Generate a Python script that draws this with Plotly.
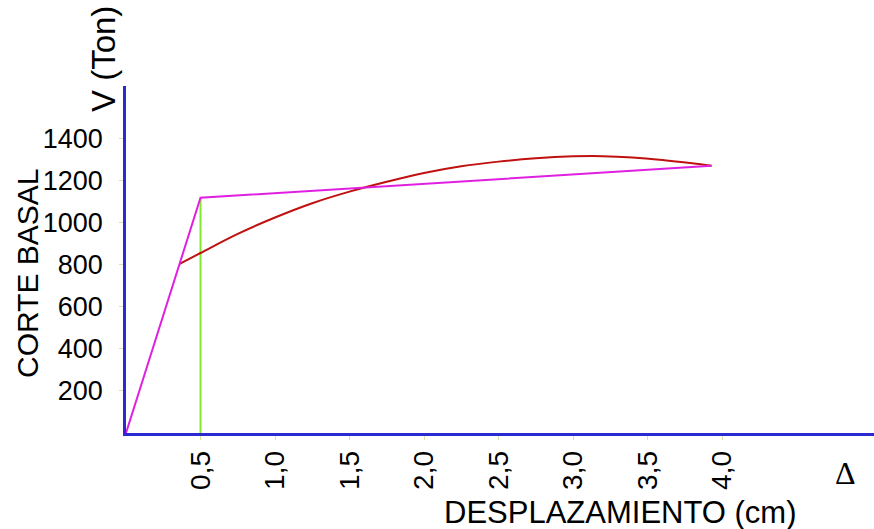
import plotly.graph_objects as go

# Data
bilinear_x = [0.0, 0.5, 3.93]
bilinear_y = [0, 1120, 1272]

curve_x = [0.36, 0.5, 0.75, 1.0, 1.25, 1.5, 1.75, 2.0, 2.25, 2.5, 2.75, 3.0, 3.2, 3.4, 3.6, 3.8, 3.93]
curve_y = [805, 857, 948, 1026, 1094, 1149, 1196, 1238, 1270, 1292, 1308, 1317, 1318, 1312, 1300, 1284, 1272]

yield_x = [0.5, 0.5]
yield_y = [0, 1120]

x_ticks = [0.5, 1.0, 1.5, 2.0, 2.5, 3.0, 3.5, 4.0]
x_ticktext = ["0,5", "1,0", "1,5", "2,0", "2,5", "3,0", "3,5", "4,0"]
y_ticks = [200, 400, 600, 800, 1000, 1200, 1400]

W, H = 874, 529
L, R, T, B = 126, 0, 86, 96
pw = W - L - R
ph = H - T - B

def px(xp):
    return (xp - L) / pw

def py(yp):
    return (H - B - yp) / ph

fig = go.Figure()
fig.add_trace(go.Scatter(x=yield_x, y=yield_y, mode="lines",
                         line=dict(color="#80e830", width=2), hoverinfo="skip"))
fig.add_trace(go.Scatter(x=curve_x, y=curve_y, mode="lines",
                         line=dict(color="#c01010", width=2, shape="spline"), hoverinfo="skip"))
fig.add_trace(go.Scatter(x=bilinear_x, y=bilinear_y, mode="lines",
                         line=dict(color="#e020e0", width=2), hoverinfo="skip"))

font_family = "Liberation Sans, Arial, sans-serif"

fig.update_layout(
    width=W, height=H,
    margin=dict(l=L, r=R, t=T, b=B, pad=0),
    paper_bgcolor="white", plot_bgcolor="white",
    showlegend=False,
    font=dict(family=font_family, color="black"),
    xaxis=dict(range=[0, 5.02], showgrid=False, zeroline=False,
               showline=True, linecolor="#2a2ad0", linewidth=2.5,
               tickvals=x_ticks, ticktext=x_ticktext, tickangle=-90,
               ticks="outside", ticklen=4, tickcolor="#d8e4a8", tickwidth=1,
               tickfont=dict(size=28, family=font_family, color="black"),
               ticklabelstandoff=0),
    yaxis=dict(range=[0, 1652], showgrid=False, zeroline=False,
               showline=True, linecolor="#2a2ad0", linewidth=2.5,
               tickvals=y_ticks,
               ticks="outside", ticklen=4, tickcolor="#d8e4a8", tickwidth=1,
               tickfont=dict(size=27, family=font_family, color="black"),
               ticklabelstandoff=11),
)

fig.add_annotation(text="CORTE BASAL", x=px(27), y=py(273), xref="paper", yref="paper",
                   showarrow=False, textangle=-90, xanchor="center", yanchor="middle",
                   font=dict(size=30, family=font_family, color="black"))
fig.add_annotation(text="V (Ton)", x=px(104), y=py(59), xref="paper", yref="paper",
                   showarrow=False, textangle=-90, xanchor="center", yanchor="middle",
                   font=dict(size=33, family=font_family, color="black"))
fig.add_annotation(text="DESPLAZAMIENTO (cm)", x=px(620), y=py(512), xref="paper", yref="paper",
                   showarrow=False, xanchor="center", yanchor="middle",
                   font=dict(size=31, family=font_family, color="black"))
fig.add_annotation(text="Δ", x=px(845), y=py(473), xref="paper", yref="paper",
                   showarrow=False, xanchor="center", yanchor="middle",
                   font=dict(size=32, family="Liberation Serif, serif", color="black"))

fig.write_html("out.html")
